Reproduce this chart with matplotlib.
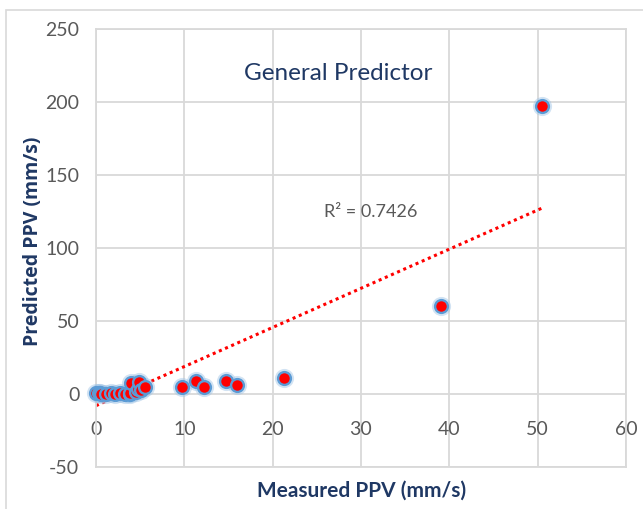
import matplotlib
matplotlib.use("Agg")
import matplotlib.pyplot as plt
from matplotlib.patches import Rectangle
import numpy as np

# ---- data ----
measured = [0.0, 0.3, 0.5, 0.6, 1.1, 1.7, 2.1, 2.7, 3.3, 3.8, 3.9, 4.0, 4.5, 4.8, 4.9, 5.1, 5.5,
            9.7, 11.3, 12.2, 14.7, 16.0, 21.3, 39.0, 50.5]
predicted = [0.8, 0.5, 0.5, 0.0, 0.0, 0.5, 0.0, 0.5, 0.0, 0.0, 0.7, 7.5, 1.6, 3.2, 8.0, 2.7, 5.0,
             5.0, 9.1, 4.6, 9.1, 6.2, 11.2, 60.3, 197.0]
trend_slope = 2.68
trend_intercept = -8.0
r2_text = "R\u00b2 = 0.7426"
x_ticks = [0, 10, 20, 30, 40, 50, 60]
y_ticks = [-50, 0, 50, 100, 150, 200, 250]

plt.rcParams["axes.unicode_minus"] = False

NAVY = "#1F3864"
GRAY_TXT = "#595959"
GRID = "#D9D9D9"
NARROW = ["Lato", "DejaVu Sans"]

fig = plt.figure(figsize=(6.43, 5.09), dpi=100)
W, H = 643, 509

# chart-area border (light gray)
fig.patches.append(Rectangle((6 / W, -0.05), 1.2, 1 - 10 / H + 0.05, transform=fig.transFigure,
                             fill=False, edgecolor=GRID, linewidth=1.2))

ax = fig.add_axes([96 / W, 1 - 467 / H, (626 - 96) / W, (467 - 29) / H])
ax.set_xlim(0, 60)
ax.set_ylim(-50, 250)
ax.set_xticks(x_ticks)
ax.set_yticks(y_ticks)
ax.grid(True, color=GRID, linewidth=1.3)
ax.set_axisbelow(True)
for s in ax.spines.values():
    s.set_color(GRID)
    s.set_linewidth(1.3)
ax.tick_params(axis="both", length=0, labelcolor=GRAY_TXT, labelsize=14)
ax.tick_params(axis="x", pad=-33)
ax.tick_params(axis="y", pad=12)
for lab in ax.get_xticklabels() + ax.get_yticklabels():
    lab.set_family(NARROW)

# trendline
xt = np.array([min(measured), max(measured)])
ax.plot(xt, trend_slope * xt + trend_intercept, color="#FF0000", linewidth=2.2,
        linestyle=(0, (1, 1.2)), zorder=2)

# markers: soft glow + red with blue ring
ax.scatter(measured, predicted, s=190, color="#9DC3E6", alpha=0.45, linewidths=0, zorder=3, clip_on=False)
ax.scatter(measured, predicted, s=85, facecolor="#FF0000", edgecolor="#5B9BD5", linewidths=1.7,
           zorder=4, clip_on=False)

fig.text(338 / W, 1 - 74 / H, "General Predictor", fontsize=17.5, color=NAVY,
         family=NARROW, ha="center", va="center")
fig.text(371 / W, 1 - 212 / H, r2_text, fontsize=13, color=GRAY_TXT,
         family=NARROW, ha="center", va="center")

fig.text(362 / W, 1 - 491 / H, "Measured PPV (mm/s)", fontsize=15, color=NAVY,
         family=NARROW, fontweight="bold", ha="center", va="center")
fig.text(33 / W, 1 - 241 / H, "Predicted PPV (mm/s)", fontsize=14, color=NAVY,
         family=["Open Sans", "DejaVu Sans"], fontweight="bold", fontstretch="normal",
         rotation=90, ha="center", va="center")

fig.savefig("out.png", dpi=100)
